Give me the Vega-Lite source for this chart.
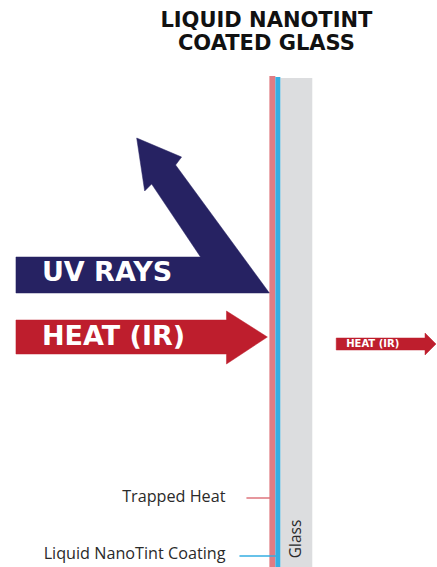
{
  "$schema": "https://vega.github.io/schema/vega-lite/v6.json",
  "width": 437,
  "height": 567,
  "autosize": {"type": "fit", "contains": "padding"},
  "padding": 0,
  "background": "white",
  "config": {"view": {"stroke": null}},
  "datasets": {
    "polys": [
      {"shape": "uv", "i": 1, "x": 16, "y": 257},
      {"shape": "uv", "i": 2, "x": 201, "y": 257},
      {"shape": "uv", "i": 3, "x": 152, "y": 184},
      {"shape": "uv", "i": 4, "x": 145, "y": 191},
      {"shape": "uv", "i": 5, "x": 137, "y": 138},
      {"shape": "uv", "i": 6, "x": 182, "y": 157},
      {"shape": "uv", "i": 7, "x": 176, "y": 165},
      {"shape": "uv", "i": 8, "x": 270, "y": 293},
      {"shape": "uv", "i": 9, "x": 16, "y": 293},
      {"shape": "heat", "i": 1, "x": 16, "y": 320},
      {"shape": "heat", "i": 2, "x": 227, "y": 320},
      {"shape": "heat", "i": 3, "x": 227, "y": 311},
      {"shape": "heat", "i": 4, "x": 268, "y": 337},
      {"shape": "heat", "i": 5, "x": 227, "y": 364},
      {"shape": "heat", "i": 6, "x": 227, "y": 354},
      {"shape": "heat", "i": 7, "x": 16, "y": 354},
      {"shape": "heatout", "i": 1, "x": 337, "y": 338},
      {"shape": "heatout", "i": 2, "x": 426, "y": 338},
      {"shape": "heatout", "i": 3, "x": 426, "y": 333},
      {"shape": "heatout", "i": 4, "x": 437, "y": 344},
      {"shape": "heatout", "i": 5, "x": 426, "y": 355},
      {"shape": "heatout", "i": 6, "x": 426, "y": 350},
      {"shape": "heatout", "i": 7, "x": 337, "y": 350}
    ],
    "rects": [
      {"name": "glass", "x": 281, "x2": 313, "y": 78, "y2": 567},
      {"name": "heat", "x": 270, "x2": 276, "y": 76, "y2": 567},
      {"name": "coat", "x": 276, "x2": 281, "y": 77, "y2": 567}
    ],
    "leaders": [
      {"name": "heat", "x": 247, "x2": 271, "y": 498},
      {"name": "coat", "x": 240, "x2": 277, "y": 556}
    ],
    "labels": [
      {"kind": "title", "text": "LIQUID NANOTINT", "x": 267, "y": 21},
      {"kind": "title", "text": "COATED GLASS", "x": 267, "y": 44},
      {"kind": "big", "text": "UV RAYS", "x": 42, "y": 273},
      {"kind": "big", "text": "HEAT (IR)", "x": 42, "y": 337},
      {"kind": "small", "text": "HEAT (IR)", "x": 347, "y": 344},
      {"kind": "note", "text": "Trapped Heat", "x": 226, "y": 497},
      {"kind": "note", "text": "Liquid NanoTint Coating", "x": 226, "y": 554},
      {"kind": "glass", "text": "Glass", "x": 297, "y": 539}
    ]
  },
  "encoding": {
    "x": {"field": "x", "type": "quantitative", "scale": {"domain": [0, 437], "nice": false, "zero": false}, "axis": null},
    "y": {"field": "y", "type": "quantitative", "scale": {"domain": [0, 567], "nice": false, "zero": false, "reverse": true}, "axis": null}
  },
  "layer": [
    {
      "data": {"name": "rects"},
      "transform": [{"filter": "datum.name === 'glass'"}],
      "mark": {"type": "rect", "fill": "#dcdddf"},
      "encoding": {"x2": {"field": "x2"}, "y2": {"field": "y2"}}
    },
    {
      "data": {"name": "rects"},
      "transform": [{"filter": "datum.name === 'heat'"}],
      "mark": {"type": "rect", "fill": "#e07c83"},
      "encoding": {"x2": {"field": "x2"}, "y2": {"field": "y2"}}
    },
    {
      "data": {"name": "rects"},
      "transform": [{"filter": "datum.name === 'coat'"}],
      "mark": {"type": "rect", "fill": "#35aee2"},
      "encoding": {"x2": {"field": "x2"}, "y2": {"field": "y2"}}
    },
    {
      "data": {"name": "leaders"},
      "transform": [{"filter": "datum.name === 'heat'"}],
      "mark": {"type": "rule", "stroke": "#de757c", "strokeWidth": 1.5},
      "encoding": {"x2": {"field": "x2"}}
    },
    {
      "data": {"name": "leaders"},
      "transform": [{"filter": "datum.name === 'coat'"}],
      "mark": {"type": "rule", "stroke": "#35aee2", "strokeWidth": 1.5},
      "encoding": {"x2": {"field": "x2"}}
    },
    {
      "data": {"name": "polys"},
      "transform": [{"filter": "datum.shape === 'uv'"}],
      "mark": {"type": "line", "interpolate": "linear-closed", "fill": "#262262", "stroke": "#262262", "strokeWidth": 0.5},
      "encoding": {"order": {"field": "i", "type": "quantitative"}}
    },
    {
      "data": {"name": "polys"},
      "transform": [{"filter": "datum.shape !== 'uv'"}],
      "mark": {"type": "line", "interpolate": "linear-closed", "fill": "#be1e2d", "stroke": "#be1e2d", "strokeWidth": 0.5},
      "encoding": {"order": {"field": "i", "type": "quantitative"}, "detail": {"field": "shape"}}
    },
    {
      "data": {"name": "labels"},
      "transform": [{"filter": "datum.kind === 'title'"}],
      "mark": {"type": "text", "font": "DejaVu Sans", "fontWeight": "bold", "fontSize": 21, "fill": "#111111", "align": "center", "baseline": "middle"},
      "encoding": {"text": {"field": "text"}}
    },
    {
      "data": {"name": "labels"},
      "transform": [{"filter": "datum.kind === 'big'"}],
      "mark": {"type": "text", "font": "DejaVu Sans", "fontWeight": "bold", "fontSize": 27, "fill": "white", "align": "left", "baseline": "middle"},
      "encoding": {"text": {"field": "text"}}
    },
    {
      "data": {"name": "labels"},
      "transform": [{"filter": "datum.kind === 'small'"}],
      "mark": {"type": "text", "font": "DejaVu Sans", "fontWeight": "bold", "fontSize": 10, "fill": "white", "align": "left", "baseline": "middle"},
      "encoding": {"text": {"field": "text"}}
    },
    {
      "data": {"name": "labels"},
      "transform": [{"filter": "datum.kind === 'note'"}],
      "mark": {"type": "text", "font": "Open Sans", "fontSize": 16.2, "fill": "#2a2a2a", "align": "right", "baseline": "middle"},
      "encoding": {"text": {"field": "text"}}
    },
    {
      "data": {"name": "labels"},
      "transform": [{"filter": "datum.kind === 'glass'"}],
      "mark": {"type": "text", "font": "Open Sans", "fontSize": 15.5, "fill": "#2a2a2a", "align": "center", "baseline": "middle", "angle": 270},
      "encoding": {"text": {"field": "text"}}
    }
  ]
}
